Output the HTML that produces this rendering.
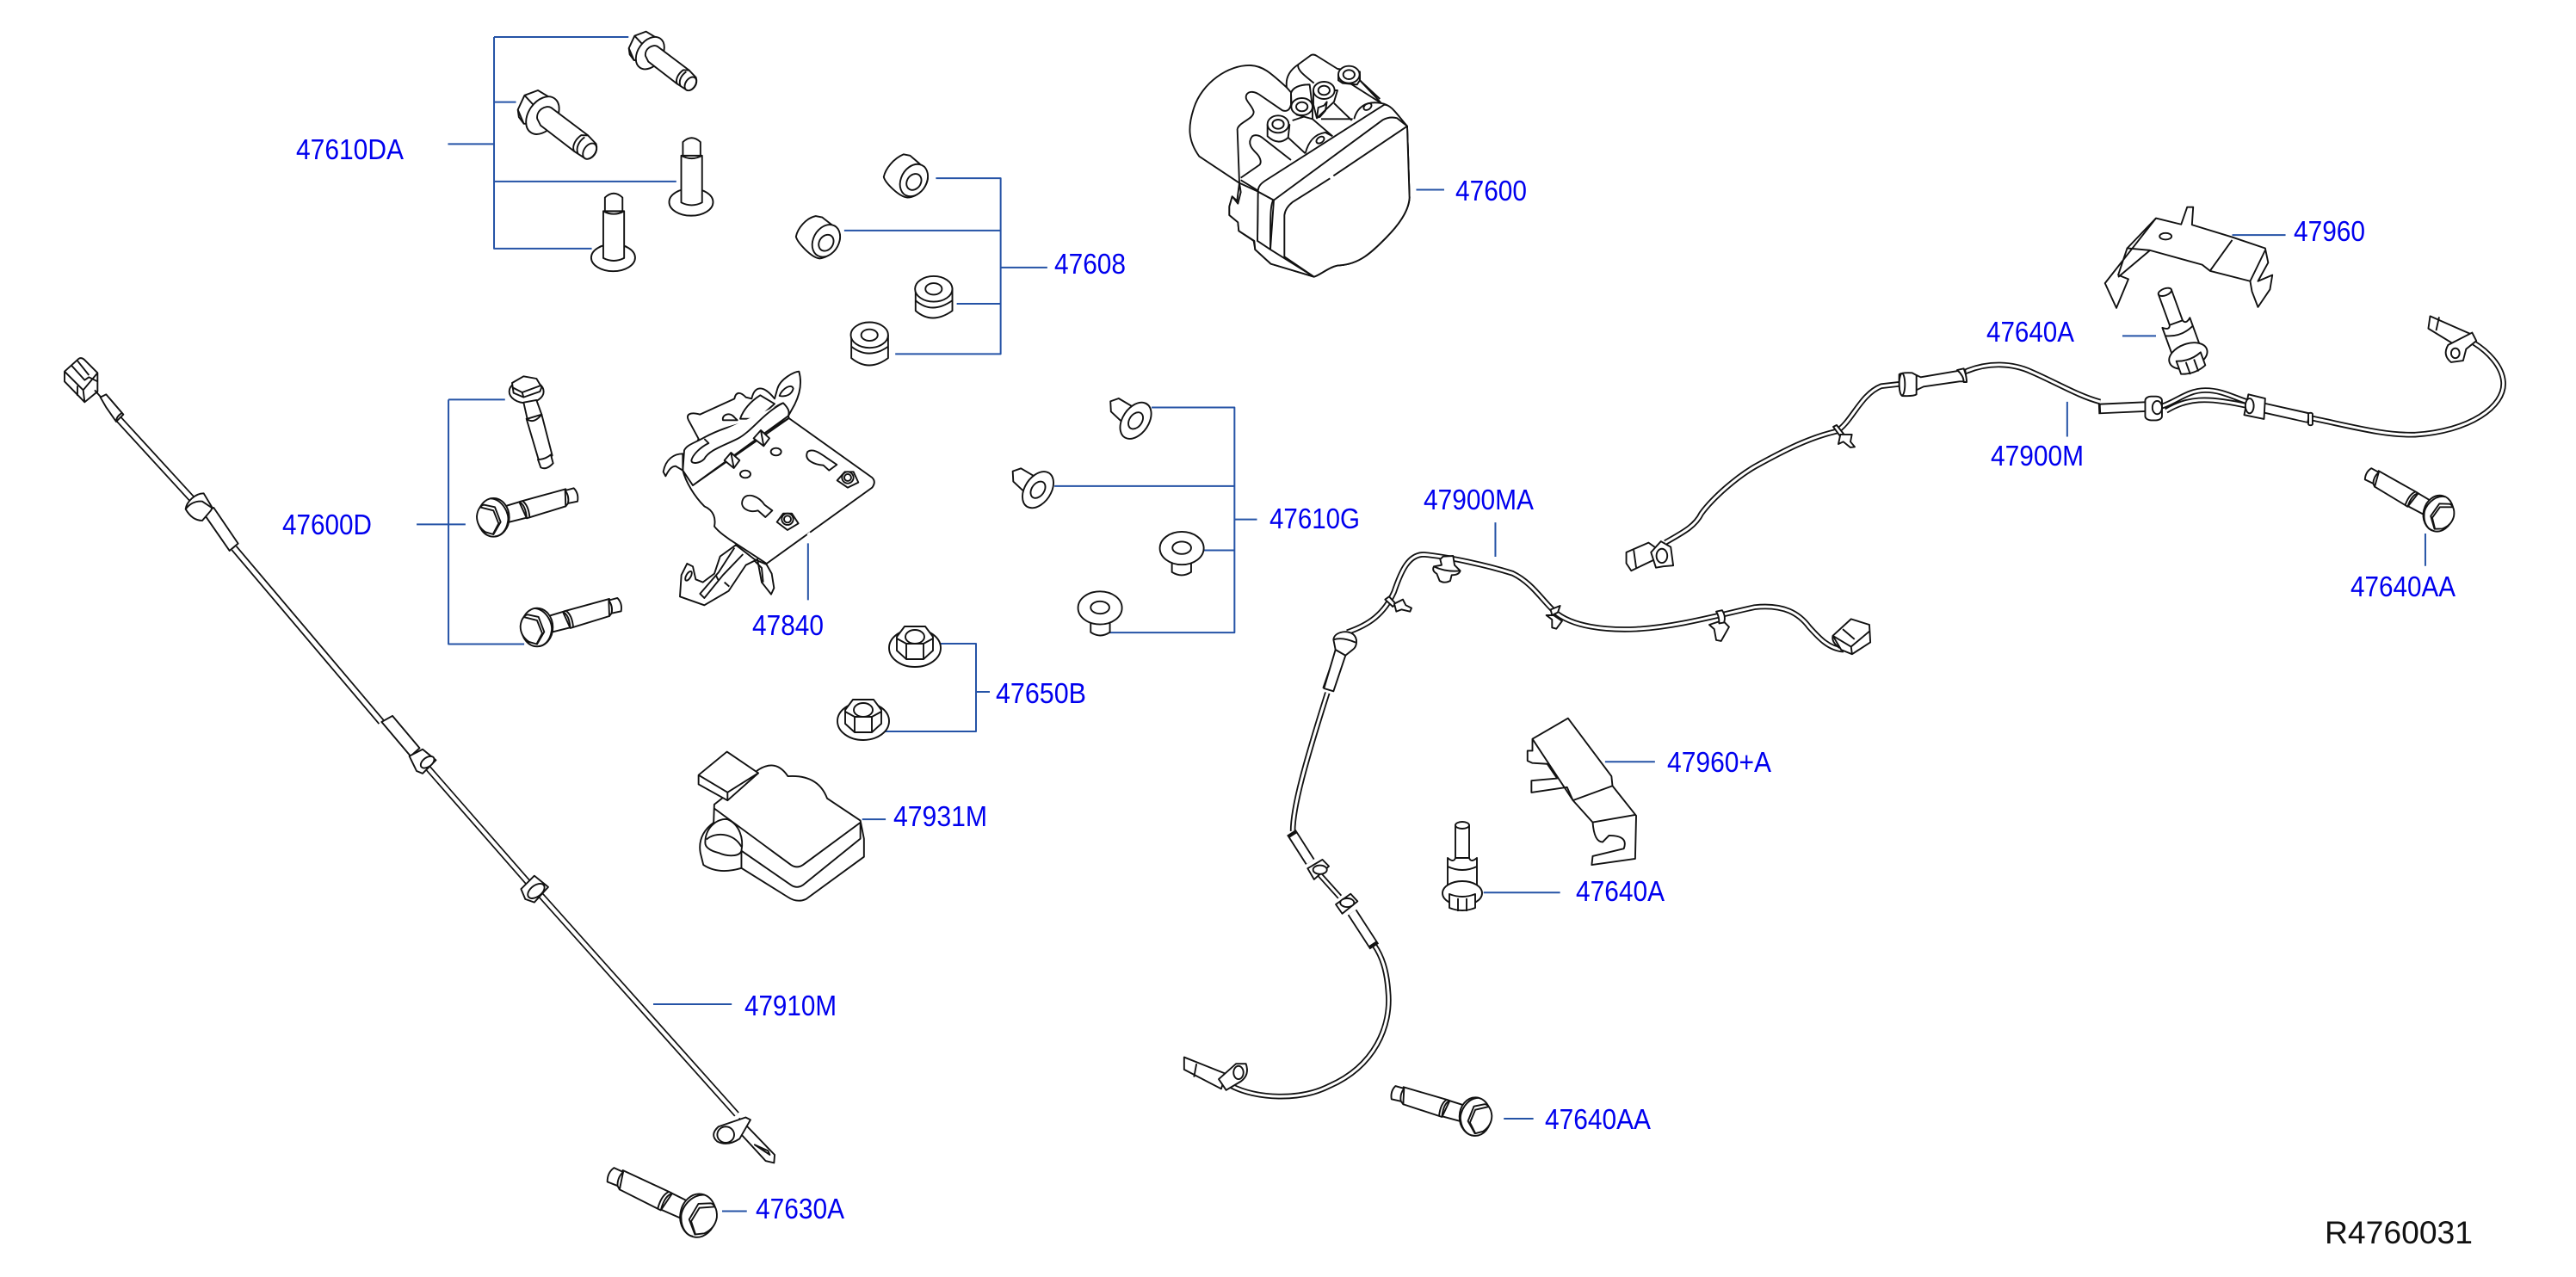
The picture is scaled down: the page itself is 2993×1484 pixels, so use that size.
<!DOCTYPE html>
<html><head><meta charset="utf-8"><style>
html,body{margin:0;padding:0;background:#fff}
svg{display:block}
path,ellipse,circle,rect,polygon,line{vector-effect:non-scaling-stroke;fill:#fff;stroke:#111;stroke-width:1.9;stroke-linejoin:round}
.n{fill:none}
.l{fill:none;stroke:#2553a6;stroke-width:2}
.wb{fill:none;stroke:#111;stroke-width:6.6}
.wi{fill:none;stroke:#fff;stroke-width:3}
.cb{fill:none;stroke:#111;stroke-width:8.6}
.ci{fill:none;stroke:#fff;stroke-width:5}
.tb{fill:none;stroke:#111;stroke-width:12.5}
.ti{fill:none;stroke:#fff;stroke-width:8.8}
text{font-family:"Liberation Sans",sans-serif;font-size:33px;fill:#0000ee}
</style></head><body>
<svg width="2993" height="1484" viewBox="0 0 2993 1484" xmlns="http://www.w3.org/2000/svg">
<defs>
<g id="b1">
<path d="M422 108L442 65L482 50L512 68L490 150L440 150L425 130Z"/>
<path class="n" d="M442 65L470 95M422 108L440 150"/>
<ellipse cx="496" cy="125" rx="42" ry="62" transform="rotate(35 496 125)"/>
<path d="M480 135C476 110 505 92 522 102L632 185L590 232L490 155Z"/>
<path d="M590 232C583 215 596 195 612 184L632 185L656 210C664 235 645 258 625 255Z"/>
<path class="n" d="M602 240C594 222 605 202 622 190"/>
<ellipse cx="637" cy="232" rx="17" ry="26" transform="rotate(35 637 232)"/>
</g>
<g id="b2">
<path d="M140 475L190 460L215 515L155 530Z"/>
<path d="M190 460Q212 470 216 517L352 475L352 415L195 458Z"/>
<path class="n" d="M200 456Q222 470 226 513"/>
<path d="M350 420L380 412Q398 430 393 458L360 465L352 475Z"/>
<path class="n" d="M350 420Q365 440 360 465"/>
<ellipse cx="100" cy="514" rx="55" ry="67"/>
<path class="n" d="M90 448C130 450 158 500 150 530C145 560 125 580 105 580"/>
<path d="M42 510C45 480 60 470 68 470L105 478L125 530L100 573L72 565C50 550 42 530 42 510Z"/>
<path class="n" d="M52 478L100 490L118 535L98 573"/>
</g>
<g id="stud">
<path d="M-8 -72L8 -72L8 -30L-8 -30Z"/>
<path d="M-17 -34Q-10 -28 -8 -34L8 -34Q10 -28 17 -34L17 2L-17 2Z"/>
<path class="n" d="M-17 -24Q0 -16 17 -24"/>
<ellipse cx="0" cy="7" rx="23" ry="14"/>
<path d="M-15 8L-15 24Q0 30 15 24L15 8Q0 14 -15 8Z"/>
<path class="n" d="M-5 13L-5 28M5 13L5 28"/>
<ellipse cx="0" cy="-72" rx="8" ry="4"/>
</g>
<g id="nut">
<ellipse cx="0" cy="5" rx="30" ry="22"/>
<path d="M-21 -8L-12 -20L12 -20L21 -8L21 8L10 18L-10 18L-21 8Z"/>
<ellipse cx="0" cy="-8" rx="11" ry="8"/>
<path class="n" d="M-10 18L-10 0M10 18L10 0M-21 -6L-10 0L10 0L21 -6"/>
</g>
</defs>

<!-- === region 1 === -->
<g transform="scale(.6378 .4783)">
<path class="l" d="M900 90H1145M900 90V604H1078M900 248H940M816 350H900M900 441H1232"/>
<path class="l" d="M817 971H920M817 971V1565H955M759 1274H848M1472 1320V1458"/>
<!-- studs -->
<ellipse cx="1259" cy="491" rx="40" ry="33"/>
<path d="M1241 378L1279 378L1279 492Q1260 505 1241 492Z"/>
<path d="M1244 345Q1260 325 1276 345L1276 378L1244 378Z"/>
<path class="n" d="M1241 378Q1260 392 1279 378"/>
<ellipse cx="1117" cy="626" rx="40" ry="33"/>
<path d="M1099 513L1137 513L1137 627Q1118 640 1099 627Z"/>
<path d="M1102 480Q1118 460 1134 480L1134 513L1102 513Z"/>
<path class="n" d="M1099 513Q1118 527 1137 513"/>
</g>

<!-- top bolts -->
<g transform="translate(590 20) scale(.3333)">
<use href="#b1"/>
<use href="#b1" transform="translate(-456.6 196.75) scale(1.165)"/>
</g>
<!-- 47600D bolts -->
<g transform="translate(540 430) scale(.3333)">
<ellipse cx="215" cy="75" rx="60" ry="40"/>
<path d="M165 45L205 22L250 30L268 60L262 75L205 95L170 80Z"/>
<path class="n" d="M165 60L200 78L262 55M200 78L205 95"/>
<path d="M205 113L218 170L268 155L250 105Z"/>
<path d="M215 170Q240 190 268 155L305 298Q280 330 258 315Z"/>
<path d="M255 312L265 340Q285 350 308 325L300 295Q280 312 255 312Z"/>
<use href="#b2"/>
<use href="#b2" transform="translate(152 383)"/>
</g>
<!-- mirrored bolts -->
<g transform="translate(811 1413) rotate(9.6) scale(-.377 .377) translate(-100 -515)"><use href="#b2"/></g>
<g transform="translate(1714 1298) rotate(1) scale(-.333 .333) translate(-100 -515)"><use href="#b2"/></g>
<g transform="translate(2833 597) rotate(14) scale(-.315 .315) translate(-100 -515)"><use href="#b2"/></g>

<!-- bracket 47840 -->
<g transform="translate(760 420) scale(.3333)">
<path d="M155 270L120 205C110 185 125 175 160 185L280 130C285 105 300 105 320 125L340 130C350 85 380 80 420 130L430 95C440 60 490 35 505 35C515 70 510 110 490 150L468 190L470 198L300 300L135 432L100 380Z"/>
<path d="M437 120C445 95 480 75 485 95C480 115 460 125 437 120Z"/>
<path d="M240 205C235 185 265 175 280 195L290 205Z"/>
<path d="M300 200C310 170 335 140 370 118L420 148L360 200Z"/>
<path d="M470 198L760 405Q775 420 760 440L392 705L285 635C260 620 225 595 210 575C215 550 210 520 175 505C140 470 110 420 100 380L135 432Z"/>
<path class="n" d="M545 598L535 606" style="stroke:#fff;stroke-width:3"/>
<path d="M100 380L105 310C115 290 140 285 175 265C250 225 300 220 360 200C400 180 420 155 450 145C475 170 470 180 468 190L135 432Z"/>
<path d="M175 270L190 285C160 300 135 325 130 345C130 360 160 355 175 340C190 310 240 295 290 270C340 245 380 180 450 145"/>
<path d="M100 322C70 322 40 340 32 385L40 400C50 380 60 365 75 365L100 380Z"/>
<path d="M245 345L268 318L298 345L278 372Z"/><path class="n" d="M268 318L278 372"/>
<path d="M347 268L372 240L402 268L382 295Z"/><path class="n" d="M372 240L382 295"/>
<ellipse cx="425" cy="315" rx="18" ry="13"/><ellipse cx="318" cy="393" rx="18" ry="13"/>
<path d="M535 315C555 300 585 325 600 335L637 360L610 380L590 362C560 360 520 345 535 315Z"/>
<path d="M310 480C325 455 365 470 385 500L412 520L388 543L362 520C330 530 295 510 310 480Z"/>
<path d="M638 415L665 385L695 385L712 422L675 440Z"/><ellipse cx="675" cy="405" rx="20" ry="20"/><ellipse cx="675" cy="405" rx="12" ry="12"/>
<path d="M428 560L450 530L480 530L503 565L465 588Z"/><ellipse cx="465" cy="550" rx="20" ry="20"/><ellipse cx="465" cy="550" rx="12" ry="12"/>
<path d="M285 640L230 680L210 740L170 770L145 760L135 715L115 705L95 745L90 820L175 850L260 800L320 710L360 690L375 770L408 812L418 790L410 740L392 708L350 690Z"/>
<path class="n" d="M310 672L240 745L175 825L160 810L225 735L280 650M215 745L225 765M245 770L262 785M350 695L375 720L380 770"/>
<ellipse cx="120" cy="748" rx="8" ry="18" transform="rotate(30 120 748)"/>
</g>

<!-- cable 47910M -->
<path class="cb" d="M137 486L225 582M272 637L443 839"/>
<path class="ci" d="M137 486L225 582M272 637L443 839"/>
<path class="cb" style="stroke-width:7.6" d="M495 890L614 1026M628 1040L856 1295"/>
<path class="ci" style="stroke-width:4.2" d="M495 890L614 1026M628 1040L856 1295"/>
<g transform="translate(60 410) scale(.3333)">
<path d="M45 65L95 20Q105 15 115 25L160 70L160 135L115 172L45 100Z"/>
<path class="n" d="M45 65L110 130L160 70M110 130L115 172M90 115L90 150M70 45L115 95L130 85L160 100M90 28L130 78"/>
<path d="M170 155L190 145L250 215L225 240L190 190Z"/>
<path class="n" d="M150 130L172 155M245 210Q225 222 225 240"/>
<path d="M530 560L565 540L650 665L620 690Z"/>
<path d="M467 545C470 520 500 490 530 490L560 540L555 550L525 585Q490 585 467 545Z"/>
<path class="n" d="M467 545Q490 515 525 518L558 540"/>
</g>
<g transform="translate(0 750) scale(.7015 .468)">
<path d="M632 190L650 175L695 255L680 275Z"/>
<path d="M678 275L700 258L722 285L700 318L690 312Z"/><ellipse cx="708" cy="290" rx="9" ry="16" transform="rotate(30 708 290)"/>
<path d="M863 605L885 572L908 600L885 638L870 630Z"/><ellipse cx="888" cy="610" rx="11" ry="20" transform="rotate(30 888 610)"/>
</g>

<!-- === region 4 === -->
<g transform="translate(0 750) scale(.7015 .468)">
<path class="l" d="M1082 891H1212M1428 432H1467M1196 1405H1237"/>
<path d="M1225 1175L1283 1265L1282 1285L1268 1280L1225 1210Z"/>
<path d="M1190 1195L1235 1172L1243 1178L1225 1225Q1205 1245 1188 1232Q1175 1215 1190 1195Z"/>
<ellipse cx="1202" cy="1215" rx="14" ry="20"/>
<path class="n" d="M1250 1240L1275 1265L1272 1255Z"/>
<!-- 47931M -->
<path d="M1160 515Q1155 470 1182 440L1183 395L1255 310Q1285 280 1305 325Q1355 320 1370 380L1425 435L1431 480L1431 525L1335 630Q1320 640 1305 625L1228 553Q1190 570 1165 545Z"/>
<path class="n" d="M1183 405L1310 545Q1320 555 1330 545L1425 440M1425 440L1425 480L1330 595Q1320 605 1310 595L1228 510M1228 510L1228 553"/>
<path d="M1168 490C1168 450 1190 428 1205 432C1225 445 1232 480 1228 510C1225 525 1205 525 1190 515C1175 510 1168 500 1168 490Z"/>
<path class="n" d="M1170 482C1185 462 1215 465 1228 500"/>
<path d="M1157 322L1204 264L1256 317L1205 385L1157 345Z"/>
<path class="n" d="M1157 322L1205 365L1256 317M1205 365L1205 385"/>
</g>

<!-- === region 2 === -->
<g transform="translate(1000 0) scale(.6378 .4783)">
<path class="l" d="M137 433H255V860H63M-30 560H255M255 650H340M175 738H255"/>
<path class="l" d="M530 990H681V1537H453M353 1181H681M625 1337H681M681 1262H722M1012 461H1063"/>
<!-- rubbers 47608 -->
<path d="M42 430C45 410 60 385 78 375L90 378C105 395 120 410 122 425C125 450 105 480 85 480C70 478 45 445 42 430Z"/>
<ellipse cx="97" cy="438" rx="24" ry="40" transform="rotate(15 97 438)"/><ellipse cx="97" cy="442" rx="13" ry="20" transform="rotate(15 97 442)"/>
<path d="M100 700L100 755Q130 790 167 755L167 700Z"/>
<path class="n" d="M100 730Q130 765 167 730"/>
<ellipse cx="133" cy="702" rx="34" ry="31"/><ellipse cx="133" cy="702" rx="15" ry="14"/>
<path d="M-17 815L-17 870Q15 905 50 870L50 815Z"/>
<path class="n" d="M-17 842Q15 875 50 842"/>
<ellipse cx="16" cy="814" rx="34" ry="31"/><ellipse cx="16" cy="814" rx="15" ry="14"/>
<!-- rivets -->
<path d="M455 975L470 968L498 990L480 1030L456 1000Z"/>
<ellipse cx="501" cy="1022" rx="25" ry="46" transform="rotate(20 501 1022)"/>
<ellipse cx="501" cy="1022" rx="12" ry="21" transform="rotate(20 501 1022)"/>
<path d="M277 1145L292 1138L320 1160L302 1200L278 1170Z"/>
<ellipse cx="323" cy="1190" rx="25" ry="46" transform="rotate(20 323 1190)"/>
<ellipse cx="323" cy="1190" rx="12" ry="21" transform="rotate(20 323 1190)"/>
<path d="M567 1365L602 1365L602 1390Q585 1405 567 1390Z"/>
<ellipse cx="585" cy="1332" rx="40" ry="40"/><ellipse cx="585" cy="1331" rx="17" ry="15"/>
<path d="M419 1510L454 1510L454 1536Q436 1552 419 1536Z"/>
<ellipse cx="436" cy="1477" rx="40" ry="40"/><ellipse cx="436" cy="1476" rx="17" ry="15"/>
</g>
<g transform="scale(.6378 .4783)">
<path d="M1450 575C1453 555 1468 530 1486 525L1498 528C1513 545 1528 555 1530 570C1533 595 1513 625 1493 628C1478 626 1453 590 1450 575Z"/>
<ellipse cx="1505" cy="585" rx="24" ry="40" transform="rotate(15 1505 585)"/><ellipse cx="1505" cy="590" rx="13" ry="20" transform="rotate(15 1505 590)"/>
</g>

<!-- ABS 47600 -->
<g transform="translate(1360 50) scale(.3333)">
<path d="M240 488L100 395C60 340 60 290 82 225C110 140 200 75 280 78C320 80 345 100 405 155C400 120 415 95 445 75L490 42Q500 38 510 45L582 90L660 100L660 130L735 210C770 215 790 250 825 290L833 540C830 590 790 640 750 680C700 730 660 770 590 775C560 775 520 810 500 815L440 795L350 770L295 720L290 690L238 655L235 625L205 600L205 570L215 535L232 550Z" />
<path class="n" d="M233 300L240 488M233 300C240 275 290 265 290 240C285 215 255 200 265 180C275 165 295 170 310 180L390 235C405 240 415 235 420 215L420 175C425 155 450 145 485 145"/>
<path class="n" d="M445 75C440 95 470 115 500 140M405 155L420 172"/>
<path class="n" d="M245 470L310 425C320 415 310 395 300 385C285 370 265 350 285 325C295 318 310 322 320 330L420 408"/>
<path class="n" d="M245 478L360 548"/>
<!-- solenoid blocks -->
<path class="n" d="M405 325L470 385M425 270L480 252L565 325M470 385C480 345 500 318 540 312L565 325"/>
<ellipse cx="522" cy="338" rx="15" ry="10" transform="rotate(-35 522 338)" class="n"/>
<path class="n" d="M570 210L632 270M640 265C650 225 680 200 735 210M625 140L735 210M660 130L730 195M525 265L635 265"/>
<ellipse cx="687" cy="222" rx="15" ry="10" transform="rotate(-35 687 222)" class="n"/>
<path d="M510 260L515 225L535 218L545 205L540 235L520 258Z"/>
<!-- ports -->
<path d="M338 285L338 325Q375 360 410 330L415 285Z"/><ellipse cx="375" cy="283" rx="37" ry="30"/><ellipse cx="375" cy="283" rx="20" ry="16"/>
<path d="M420 175C425 155 450 145 485 145L495 225L495 265L440 250L422 225Z"/><ellipse cx="458" cy="222" rx="37" ry="30"/><ellipse cx="458" cy="222" rx="20" ry="16"/>
<path d="M498 165L498 215L510 262L570 205L582 165Z"/><ellipse cx="535" cy="165" rx="37" ry="30"/><ellipse cx="535" cy="165" rx="20" ry="16"/>
<path d="M585 110L585 130L600 140L650 145L660 130L660 110Z"/><ellipse cx="622" cy="110" rx="37" ry="30"/><ellipse cx="622" cy="110" rx="20" ry="16"/>
<path class="n" d="M510 262L515 225L535 218L545 205L540 235L520 258"/>
<!-- cover layers -->
<path d="M305 518C305 500 315 490 330 480L745 215C770 215 790 250 825 290L833 540C830 590 790 640 750 680C700 730 660 770 590 775C560 775 520 810 500 815L350 770L295 720L303 690Z"/>
<path class="n" d="M360 548L740 268Q765 255 790 262L825 290M358 548C348 565 348 600 348 720C348 745 370 770 500 815M305 518L360 548M303 690Q310 710 345 725"/>
<path d="M825 290L568 463L556 472L425 555Q400 575 397 600L397 745L500 815C520 810 560 775 590 775C660 770 700 730 750 680C790 640 830 590 833 540Z"/>
<path d="M240 488L245 520L235 560L215 535L205 570L205 600L235 625L238 655L292 690L295 720L350 770L500 815L348 720L303 690L305 518Z"/>
<path class="n" d="M305 518L360 548L348 720"/>
<path d="M556 472L568 463" style="stroke:#fff;stroke-width:3"/>
</g>

<!-- 47650B nuts -->
<path class="l" d="M1092 748H1134V850H1027M1134 804H1150"/>
<use href="#nut" transform="translate(1063 748)"/>
<use href="#nut" transform="translate(1003 833)"/>
<use href="#stud" transform="translate(1699 1031)"/>
<use href="#stud" transform="translate(2540 407) rotate(-20)"/>

<!-- === region 5 === -->
<g transform="translate(1350 550) scale(.574 .5102)">
<path class="l" d="M675 112V190M897 657H998M651 955H806M692 1470H752"/>
<path class="wb" d="M140 1395C190 1425 280 1430 340 1395C430 1350 465 1260 458 1180C455 1130 445 1100 430 1075"/>
<path class="wi" d="M140 1395C190 1425 280 1430 340 1395C430 1350 465 1260 458 1180C455 1130 445 1100 430 1075"/>
<path class="wb" d="M360 965L320 915M265 815C265 760 290 660 335 500"/>
<path class="wi" d="M360 965L320 915M265 815C265 760 290 660 335 500"/>
<path class="wb" d="M375 362C420 345 450 320 470 270C485 220 500 185 530 185C580 190 660 210 710 228C750 250 770 290 795 315C830 350 900 358 960 355C1040 350 1120 325 1200 305C1260 298 1290 320 1310 350C1330 375 1350 400 1380 402"/>
<path class="wi" d="M375 362C420 345 450 320 470 270C485 220 500 185 530 185C580 190 660 210 710 228C750 250 770 290 795 315C830 350 900 358 960 355C1040 350 1120 325 1200 305C1260 298 1290 320 1310 350C1330 375 1350 400 1380 402"/>
<path class="tb" d="M430 1078L385 1000M300 885L262 818M335 493L362 405"/>
<path class="ti" d="M426 1071L385 1000M300 885L266 825M337 487L362 405"/>
<path d="M295 900L325 880L338 895L308 925Z"/><ellipse cx="320" cy="903" rx="14" ry="10"/>
<path d="M352 982L382 958L396 975L365 1003Z"/><ellipse cx="375" cy="978" rx="14" ry="10"/>
<!-- sensor -->
<path d="M45 1330L130 1368L120 1402L45 1358Z"/>
<path class="n" d="M70 1345L65 1375"/>
<path d="M115 1380L150 1345L170 1345Q178 1370 160 1385L130 1405Z"/>
<ellipse cx="155" cy="1365" rx="10" ry="15"/>
<!-- clip -->
<path d="M1108 345L1135 335L1148 350L1132 382L1122 380L1118 355Z"/><path d="M1122 315L1134 312Q1142 325 1138 340L1128 342Q1128 325 1122 315Z"/>
<!-- connector -->
<path d="M1358 370L1395 332L1432 345L1434 385L1397 412L1375 402Z"/>
<path class="n" d="M1358 370L1395 395L1432 360M1395 395L1397 412M1378 355L1402 378M1358 370Q1355 385 1372 398"/>
<!-- 47900M connector -->
<path d="M940 180L985 158L1000 170L1000 195L950 222L940 205Z"/>
<path class="n" d="M955 175L960 215"/>
<path d="M990 180L1010 155L1030 168L1035 210L1015 212L1000 215Z"/>
<ellipse cx="1012" cy="188" rx="11" ry="16"/>
<!-- 47960+A -->
<path d="M750 605L822 558L910 690L912 712L960 780L958 878L870 892L872 872L935 855Q945 825 905 825L892 840Q875 840 872 795L832 745L820 715L748 727L748 700L800 695L780 662L750 660L740 655L740 632L750 632Z"/>
<path class="n" d="M750 605L832 745M912 712L832 745M958 778L872 795"/>
</g>
<!-- clips and ball -->
<g transform="translate(1540 640) scale(.3333)">
<path d="M35 345L70 365L28 490L-5 480Z"/>
<path d="M28 310C30 285 70 275 95 290C115 305 110 335 95 345L70 365L35 345Z"/>
<path class="n" d="M28 310Q60 300 105 320"/>
<path d="M400 30L410 20L445 18L450 50L470 70Q465 85 440 85L435 105Q415 115 398 105L388 80Q370 70 378 55L405 50Z"/>
<path class="n" d="M378 55Q420 75 470 70"/>
<path d="M208 170L222 160L245 185L235 195Z"/>
<path d="M240 185L270 170L280 190L300 200L295 212L265 205L247 212Z"/>
<path d="M785 205L818 192L810 215L790 225Z"/>
<path d="M770 225L795 225L825 245L805 272L790 268L790 240Z"/>
</g>

<!-- === region 3 === -->
<g transform="translate(1900 200) scale(.697 .4783)">
<path class="l" d="M995 153H1084M812 398H868M720 558V643M1317 878V957"/>
<path class="wb" d="M50 900C80 875 100 860 110 830C130 790 170 740 200 715C250 675 290 645 335 630C360 610 375 540 410 520L440 515"/>
<path class="wi" d="M50 900C80 875 100 860 110 830C130 790 170 740 200 715C250 675 290 645 335 630C360 610 375 540 410 520L440 515"/>
<path class="wb" d="M550 485C590 460 630 465 660 485C700 510 740 545 775 558"/>
<path class="wi" d="M550 485C590 460 630 465 660 485C700 510 740 545 775 558"/>
<path class="wb" d="M875 570C900 560 920 530 950 530C980 530 1000 550 1025 560M885 580C920 550 950 545 1020 568"/>
<path class="wi" d="M875 570C900 560 920 530 950 530C980 530 1000 550 1025 560M885 580C920 550 950 545 1020 568"/>
<path class="wb" d="M1128 598C1200 620 1250 640 1300 638C1390 630 1450 570 1447 510C1445 470 1420 435 1398 415"/>
<path class="wi" d="M1128 598C1200 620 1250 640 1300 638C1390 630 1450 570 1447 510C1445 470 1420 435 1398 415"/>
<path class="tb" d="M772 575L850 570M1045 572L1125 598"/>
<path class="ti" d="M776 575L850 570M1045 572L1121 597"/>
<rect x="850" y="545" width="28" height="58" rx="10"/><ellipse cx="870" cy="572" rx="8" ry="16"/>
<path d="M1015 590L1022 540L1050 550L1048 600Z"/><ellipse cx="1024" cy="568" rx="7" ry="18"/>
<rect x="1122" y="585" width="7" height="30" rx="3"/>
<!-- sensor -->
<path d="M1325 350L1395 395L1378 430L1322 380Z"/>
<path class="n" d="M1340 352L1335 385"/>
<path d="M1355 420L1395 390L1402 410L1385 430L1380 458L1360 462Q1345 445 1355 420Z"/>
<ellipse cx="1367" cy="440" rx="7" ry="12"/>
<!-- 47960 -->
<path d="M868 112L910 127L920 85L930 85L928 128L995 158L1050 185L1055 220L1038 265L1062 250L1058 285L1038 328L1028 290L1025 265L958 240L945 225L858 190L820 185L805 250L822 260L802 330L783 270Z"/>
<path class="n" d="M868 112L820 185M995 165L958 240M1050 190L1025 265M858 190L805 255"/>
<ellipse cx="884" cy="156" rx="10" ry="8"/>
</g>
<!-- grommet + clip -->
<g transform="translate(1990 350) scale(.3333)">
<path d="M710 258L725 265L860 242L880 240L885 280L860 280L735 298L710 310Z"/>
<path d="M852 240L875 235Q885 260 885 282L875 282Q875 260 852 240Z"/>
<path d="M650 255Q660 248 695 250L710 258L710 325Q700 332 660 330Q648 325 650 255Z"/>
<ellipse cx="660" cy="290" rx="10" ry="38" class="n"/>
<path d="M420 438L432 432L458 465L445 472Z"/>
<path d="M438 498L445 465L485 465L480 490L495 508L480 510L455 490Z"/>
</g>

<!-- labels -->
<text x="344" y="185" textLength="125" lengthAdjust="spacingAndGlyphs">47610DA</text>
<text x="328" y="621" textLength="104" lengthAdjust="spacingAndGlyphs">47600D</text>
<text x="874" y="738" textLength="83" lengthAdjust="spacingAndGlyphs">47840</text>
<text x="1225" y="318" textLength="83" lengthAdjust="spacingAndGlyphs">47608</text>
<text x="1691" y="233" textLength="83" lengthAdjust="spacingAndGlyphs">47600</text>
<text x="1475" y="614" textLength="105" lengthAdjust="spacingAndGlyphs">47610G</text>
<text x="1654" y="592" textLength="128" lengthAdjust="spacingAndGlyphs">47900MA</text>
<text x="2665" y="280" textLength="83" lengthAdjust="spacingAndGlyphs">47960</text>
<text x="2308" y="397" textLength="102" lengthAdjust="spacingAndGlyphs">47640A</text>
<text x="2313" y="541" textLength="108" lengthAdjust="spacingAndGlyphs">47900M</text>
<text x="2731" y="693" textLength="122" lengthAdjust="spacingAndGlyphs">47640AA</text>
<text x="1937" y="897" textLength="121" lengthAdjust="spacingAndGlyphs">47960+A</text>
<text x="1831" y="1047" textLength="103" lengthAdjust="spacingAndGlyphs">47640A</text>
<text x="1795" y="1312" textLength="123" lengthAdjust="spacingAndGlyphs">47640AA</text>
<text x="1157" y="817" textLength="105" lengthAdjust="spacingAndGlyphs">47650B</text>
<text x="1038" y="960" textLength="109" lengthAdjust="spacingAndGlyphs">47931M</text>
<text x="865" y="1180" textLength="107" lengthAdjust="spacingAndGlyphs">47910M</text>
<text x="878" y="1416" textLength="103" lengthAdjust="spacingAndGlyphs">47630A</text>
<text x="2701" y="1445" textLength="172" lengthAdjust="spacingAndGlyphs" style="fill:#111;font-size:37px">R4760031</text>
</svg>
</body></html>
